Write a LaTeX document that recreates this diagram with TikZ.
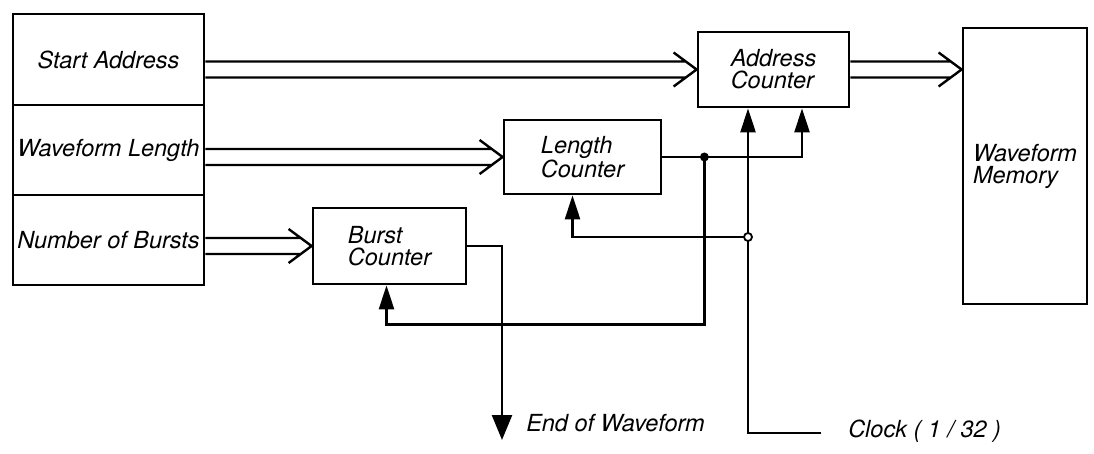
\documentclass[tikz,border=0pt]{standalone}
\usepackage{fontspec}
\setmainfont{TeX Gyre Heros}
\usetikzlibrary{arrows.meta}
\newcommand\difont{\fontsize{23.5}{22}\selectfont\itshape}
\begin{document}
\begin{tikzpicture}[x=1pt,y=-1pt,line width=2.5pt,
  box/.style={draw, line width=2.8pt, inner sep=0pt, align=left, font=\difont},
  sig/.style={line width=2.5pt, -{Triangle[length=24pt,width=15pt]}},
  bus/.style={line width=2.4pt, to path={
      ([yshift=8pt]\tikztostart) -- ([xshift=-11pt,yshift=8pt]\tikztotarget)
      ([yshift=-8pt]\tikztostart) -- ([xshift=-11pt,yshift=-8pt]\tikztotarget)
      ([xshift=-23pt,yshift=17pt]\tikztotarget) -- (\tikztotarget) -- ([xshift=-23pt,yshift=-17pt]\tikztotarget)}},
  lbl/.style={font=\difont, inner sep=2pt}]
\useasboundingbox (0,0) rectangle (1094,454);
% left stack
\node[box, minimum width=191pt, minimum height=91pt] (sa) at (108.5,59.5) {Start Address};
\node[box, minimum width=191pt, minimum height=90pt] (wl) at (108.5,150) {Waveform Length};
\node[box, minimum width=191pt, minimum height=90pt] (nb) at (108.5,240) {Number of Bursts};
% counters and memory
\node[box, minimum width=151pt, minimum height=75pt] (ac) at (773.5,69.5) {Address\\Counter};
\node[box, minimum width=157pt, minimum height=74pt] (lc) at (582.5,157) {Length\\Counter};
\node[box, minimum width=153pt, minimum height=76pt] (bc) at (389.5,246) {Burst\\Counter};
\node[box, minimum width=124pt, minimum height=276pt] (mem) at (1025,166) {Waveform\\Memory};
% bus connectors
\coordinate (sao) at (sa.east |- ac.west);
\coordinate (wlo) at (wl.east |- lc.west);
\coordinate (nbo) at (nb.east |- bc.west);
\coordinate (memi) at (mem.west |- ac.east);
\draw[bus] (sao) to (ac.west);
\draw[bus] (wlo) to (lc.west);
\draw[bus] (nbo) to (bc.west);
\draw[bus] (ac.east) to (memi);
% control lines
\coordinate (j1) at ([xshift=42pt]lc.east);
\coordinate (fbc) at ([xshift=-3pt,yshift=-39pt]bc.south);
\coordinate (j2) at (748,237);
\coordinate (clk) at (821,433);
\coordinate (eowtip) at (502,440);
\draw[sig] (lc.east) -| ([xshift=28.5pt]ac.south);
\draw[sig] (j1) |- (fbc) -- ([xshift=-3pt]bc.south);
\draw[sig] (clk) -| ([xshift=-25.5pt]ac.south);
\draw[sig] (j2) -| ([xshift=-10pt]lc.south);
\draw[sig, -{Triangle[length=25pt,width=20pt]}] (bc.east) -| (eowtip);
\fill (j1) circle (4.5pt);
\draw[line width=1.8pt, fill=white] (j2) circle (4pt);
% labels
\node[lbl, anchor=base west] (eow) at (523,431) {End of Waveform};
\node[lbl, anchor=base west] (clock) at (845,437) {Clock ( 1 / 32 )};
\end{tikzpicture}
\end{document}
